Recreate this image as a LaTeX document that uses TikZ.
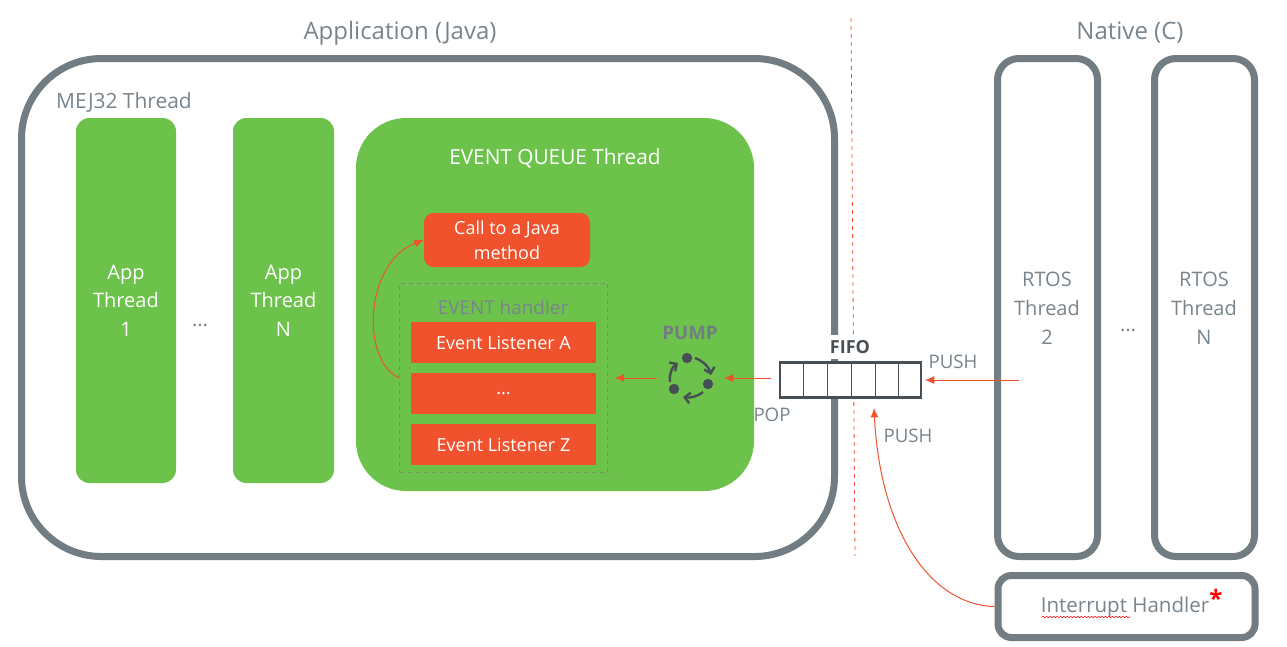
\documentclass[tikz,border=0pt]{standalone}
\usepackage{fontspec}
\setmainfont{Open Sans}
\usepackage{xcolor}
\usetikzlibrary{arrows.meta}
\usetikzlibrary{decorations.pathmorphing}
\definecolor{framegray}{HTML}{717C83}
\definecolor{textgray}{HTML}{79848C}
\definecolor{fifogray}{HTML}{474F55}
\definecolor{threadgreen}{HTML}{6CC24A}
\definecolor{eventred}{HTML}{F0522D}
\tikzset{
  framebox/.style={draw=framegray,line width=5.25pt,fill=white,rounded corners=16pt,inner sep=0pt,text=textgray},
  greenbox/.style={fill=threadgreen,rounded corners=10pt,inner sep=0pt,text=white,align=center,font=\fontsize{15}{21.5}\selectfont},
  redbox/.style={fill=eventred,inner sep=0pt,text=white,align=center,font=\fontsize{13.5}{18.75}\selectfont},
  graytext/.style={text=textgray,inner sep=0pt,align=center,font=\fontsize{14}{21.5}\selectfont},
  titletext/.style={text=textgray,inner sep=0pt,font=\fontsize{18}{22}\selectfont},
  redarrow/.style={draw=eventred,line width=.75pt,-{Latex[length=7pt,width=6pt]}},
  pumparrow/.style={fifogray,line width=1.8pt,-{Straight Barb[length=4pt,width=8pt]}},
}
\begin{document}
\begin{tikzpicture}[x=.75pt,y=-.75pt]
  \useasboundingbox (0,0) rectangle (1287,646);

  \node[titletext] (apptitle) at (400,33) {Application (Java)};
  \node[titletext] (nativetitle) at (1130,33) {Native (C)};

  % application side
  \node[framebox,rounded corners=60pt,minimum width=609.75pt,minimum height=373.5pt] (appframe) at (428,307.5) {};
  \node[graytext,font=\fontsize{15.7}{18}\selectfont] (mejlabel) at (124,103) {MEJ32 Thread};
  \node[greenbox,minimum width=75pt,minimum height=273.75pt] (appone) at (126,300.5) {App\\Thread\\1};
  \node[greenbox,minimum width=75.75pt,minimum height=273.75pt] (appn) at (283.5,300.5) {App\\Thread\\N};
  \node[text=textgray,inner sep=0pt,font=\fontsize{15}{18}\selectfont] (appdots) at (200,325) {...};

  \node[greenbox,rounded corners=37.5pt,minimum width=298.5pt,minimum height=279.75pt] (queue) at (555,304.5) {};
  \node[text=white,inner sep=0pt,font=\fontsize{15.6}{18}\selectfont] (queuelabel) at (555,158) {EVENT QUEUE Thread};
  \node[redbox,rounded corners=7pt,minimum width=124.5pt,minimum height=40.5pt] (call) at (507,240) {Call to a Java\\method};
  \node[draw=framegray!70!threadgreen,dashed,line width=.5pt,inner sep=0pt,minimum width=156pt,minimum height=141.75pt] (handler) at (503.5,377.5) {};
  \node[graytext,font=\fontsize{14.2}{16}\selectfont] (handlerlabel) at (503,307) {EVENT handler};
  \node[redbox,minimum width=138.75pt,minimum height=30.75pt] (lista) at (503.5,342.5) {Event Listener A};
  \node[redbox,minimum width=138.75pt,minimum height=30.75pt] (listdots) at (503.5,393.5) {...};
  \node[redbox,minimum width=138.75pt,minimum height=30.75pt] (listz) at (503.5,444.5) {Event Listener Z};

  % pump
  \node[minimum size=33pt,inner sep=0pt] (pump) at (691,378) {};
  \node[graytext,text=framegray,font=\fontsize{14}{16}\bfseries\selectfont] (pumplabel) at (690,333) {PUMP};
  \foreach \px/\py in {687/358,708/384,674/389}
    \fill[fifogray] (\px,\py) circle (3.9pt);
  \draw[pumparrow] (695,358) .. controls (703,361) and (709,367) .. (711,375);
  \draw[pumparrow] (703,392) .. controls (697,397) and (690,398) .. (683,397);
  \draw[pumparrow] (670,382) .. controls (669,374) and (672,367) .. (678,363);

  % border between the two sides
  \draw[eventred,dashed,line width=.6pt] (851,18) -- (855,556);
  \node[inner sep=0pt,fill=white,minimum width=28.5pt,minimum height=18pt,text=fifogray,font=\fontsize{13.5}{16}\bfseries\selectfont] (fifolabel) at (850,347) {FIFO};
  \node[draw=fifogray,fill=white,line width=1.9pt,inner sep=0pt,minimum width=105.75pt,minimum height=26.25pt] (fifo) at (850.5,380) {};
  \foreach \cx in {803,827,851,875,898}
    \draw[fifogray,line width=.75pt] (\cx,362) -- (\cx,398);

  % native side
  \node[framebox,minimum width=75pt,minimum height=373.5pt] (rtostwo) at (1047.5,307.5) {};
  \node[framebox,minimum width=75pt,minimum height=373.5pt] (rtosn) at (1204.5,307.5) {};
  \node[graytext,font=\fontsize{15}{21.75}\selectfont] (rtostwolabel) at (1047,308) {RTOS\\Thread\\2};
  \node[graytext,font=\fontsize{15}{21.75}\selectfont] (rtosnlabel) at (1204,308) {RTOS\\Thread\\N};
  \node[text=textgray,inner sep=0pt,font=\fontsize{15}{18}\selectfont] (rtosdots) at (1128,330) {...};
  \node[framebox,rounded corners=10pt,minimum width=192.75pt,minimum height=46.5pt] (irq) at (1126.5,606.5) {};
  \node[graytext,font=\fontsize{15.4}{18}\selectfont] (irqlabel) at (1125,607) {Interrupt Handler};
  \node[text=red,inner sep=0pt,font=\fontsize{18}{18}\bfseries\selectfont] (irqstar) at (1216,598) {*};
  \coordinate (wavestart) at (1042,617);
  \coordinate (waveend) at (1130,617);
  \draw[red,line width=.4pt,decorate,decoration={snake,amplitude=.5pt,segment length=2.6pt}] (wavestart) -- (waveend);

  \node[graytext] (pushright) at (953,362) {PUSH};
  \node[graytext] (poplabel) at (772,415) {POP};
  \node[graytext] (pushlow) at (908,436) {PUSH};

  % arrows
  \coordinate (pushstart) at (1019,380);
  \coordinate (irqend) at (874,408);
  \draw[redarrow,shorten <=6pt,shorten >=8pt] (fifo.west |- pump) -- (pump);
  \draw[redarrow,shorten <=9pt,shorten >=5pt] (pump.west) -- (handler.east |- pump);
  \draw[redarrow,shorten >=2pt] (pushstart) -- (fifo.east);
  \draw[redarrow] (irq.west) .. controls (930,605) and (880,530) .. (irqend);
  \draw[redarrow] (handler.west |- pump) .. controls (360,360) and (365,262) .. (call.west);
\end{tikzpicture}
\end{document}
